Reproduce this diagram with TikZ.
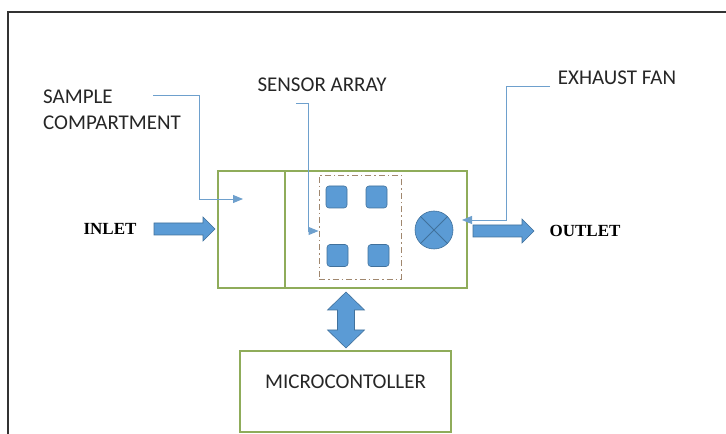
\documentclass[tikz,border=0pt]{standalone}
\usepackage{fontspec}
\setmainfont{Carlito}
\newfontfamily\serifbold{Liberation Serif}
\usepackage{tikz}
\usetikzlibrary{
	arrows.meta, shapes.geometric, positioning, calc
}
\definecolor{chambergreen}{RGB}{143, 172,  90}
\definecolor{flowblue}{RGB}{ 91, 155, 213}
\definecolor{flowedge}{RGB}{ 65, 113, 156}
\definecolor{leaderblue}{RGB}{110, 160, 205}
\definecolor{arraybrown}{RGB}{160, 135, 110}

\begin{document}
\begin{tikzpicture}[x=1bp, y=-1bp,
	box/.style={draw=chambergreen, line width=1.1bp, inner sep=0pt},
	lbl/.style={font=\fontsize{21bp}{26bp}\selectfont, text=black!85, inner sep=0pt},
	port/.style={font=\serifbold\bfseries\fontsize{17bp}{20bp}\selectfont, inner sep=0pt},
	flow/.style={draw=flowedge, fill=flowblue, line width=0.6bp},
	sensor/.style={draw=flowedge, fill=flowblue, line width=0.6bp, rounded corners=3bp,
		minimum width=21bp, minimum height=22bp, inner sep=0pt},
	leader/.style={draw=leaderblue, line width=0.9bp, -{Triangle[length=10bp, width=8bp]}}
]
	\useasboundingbox (0,0) rectangle (726,434);
	% outer frame
	\draw[black!80, line width=1.3bp] (726,12) -- (8,12) -- (8,434);

	% chamber: sample part and sensor part
	\node[box, minimum width=67bp, minimum height=117bp] (sample) at (251.5,229.5) {};
	\node[box, minimum width=182bp, minimum height=117bp] (chamber) at (376,229.5) {};
	\node[draw=arraybrown, line width=0.9bp, dash pattern=on 6bp off 3bp on 1.5bp off 3bp,
		minimum width=82bp, minimum height=104bp, inner sep=0pt] (array) at (360,227) {};
	\node[sensor] (s1) at (336.5,197) {};
	\node[sensor] (s2) at (376.5,197) {};
	\node[sensor] (s3) at (337.5,255.5) {};
	\node[sensor] (s4) at (378.5,255.5) {};
	\node[circle, draw=flowedge, fill=flowblue, line width=0.6bp, minimum size=38bp,
		inner sep=0pt] (fan) at (434,230) {};
	\draw[flowedge, line width=0.8bp] (fan.45) -- (fan.225) (fan.135) -- (fan.315);

	% microcontroller
	\node[box, minimum width=211bp, minimum height=81bp] (mcu) at (345.5,391.5) {};
	\node[lbl] (mcutext) at ([yshift=10bp]mcu.center) {MICROCONTOLLER};

	% air in, air out, data link
	\draw[flow] (154,223) -- (203,223) -- (203,217) -- (215,229) -- (203,241)
		-- (203,235) -- (154,235) -- cycle;
	\draw[flow] (473,225) -- (522,225) -- (522,219) -- (534,231) -- (522,243)
		-- (522,237) -- (473,237) -- cycle;
	\draw[flow] (346,292) -- (364.5,310) -- (354.5,310) -- (354.5,330) -- (364.5,330)
		-- (346,348) -- (327.5,330) -- (337.5,330) -- (337.5,310) -- (327.5,310) -- cycle;

	\node[port] (inlet) at (110,229) {INLET};
	\node[port] (outlet) at (585,231) {OUTLET};

	% labels and leaders
	\node[lbl, align=left, anchor=west] (smp) at (43,110) {SAMPLE\\COMPARTMENT};
	\node[lbl] (sens) at (322,85) {SENSOR ARRAY};
	\node[lbl] (exh) at (617,78) {EXHAUST FAN};
	\coordinate (smpout) at (153,95);
	\coordinate (sensout) at (296,103);
	\coordinate (exhout) at (550,86);

	\draw[leader] (smpout) -- (199,95) |- (243,199);
	\draw[leader] (sensout) -- (308,103) |- (array.west |- 0,231);
	\draw[leader] (exhout) -- (506,86) |- (462,220);
\end{tikzpicture}
\end{document}
